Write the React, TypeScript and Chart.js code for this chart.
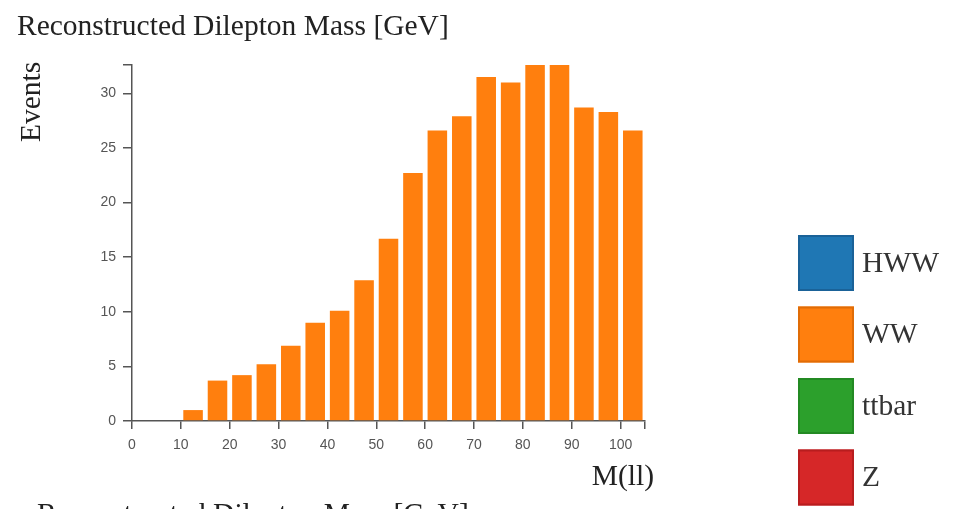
import React, { useEffect, useRef } from "react";
import { Chart, registerables } from "chart.js";

Chart.register(...registerables);

// ---- Data ----
const chartTitle = "Reconstructed Dilepton Mass [GeV]";
const xAxisTitle = "M(ll)";
const yAxisTitle = "Events";
const binStarts = [10, 15, 20, 25, 30, 35, 40, 45, 50, 55, 60, 65, 70, 75, 80, 85, 90, 95, 100];
const binWidth = 5;
const wwEvents = [1.0, 3.7, 4.2, 5.2, 6.9, 9.0, 10.1, 12.9, 16.7, 22.7, 26.6, 27.9, 31.5, 31.0, 32.6, 32.6, 28.7, 28.3, 26.6];
const processes = ["HWW", "WW", "ttbar", "Z"];
const processColors = ["#1f77b4", "#ff7f0e", "#2ca02c", "#d62728"];
const processBorders = ["#1a6298", "#e06c06", "#238a23", "#b81d1e"];
const xTickStep = 10;
const yTickStep = 5;

const SERIF = '"Liberation Serif", "Times New Roman", serif';
const SANS = '"Liberation Sans", Arial, sans-serif';

const textPlugin = {
  id: "texts",
  afterDraw(chart: any) {
    const ctx = chart.ctx as CanvasRenderingContext2D;
    ctx.save();
    ctx.font = `29.5px ${SERIF}`;
    ctx.fillStyle = "#222";
    ctx.textAlign = "left";
    ctx.textBaseline = "alphabetic";
    ctx.fillText(chartTitle, 17, 35);
    // next chart's title, cut off by the bottom edge
    ctx.fillText(chartTitle, 37, 522.5);

    ctx.save();
    ctx.translate(40, 142);
    ctx.rotate(-Math.PI / 2);
    ctx.fillText(yAxisTitle, 0, 0);
    ctx.restore();

    ctx.textAlign = "right";
    ctx.fillText(xAxisTitle, 654, 485);

    // legend
    const size = 56;
    const left = 798;
    const top0 = 235;
    const pitch = 71.5;
    chart.data.datasets.forEach((ds: any, i: number) => {
      const top = top0 + i * pitch;
      ctx.fillStyle = ds.backgroundColor;
      ctx.fillRect(left, top, size, size);
      ctx.strokeStyle = processBorders[i];
      ctx.lineWidth = 2;
      ctx.strokeRect(left + 1, top + 1, size - 2, size - 2);
      ctx.fillStyle = "#333";
      ctx.textAlign = "left";
      ctx.textBaseline = "middle";
      ctx.font = `29.5px ${SERIF}`;
      ctx.fillText(ds.label, left + size + 8, top + size / 2 + 1);
    });
    ctx.restore();
  },
};

export default function App() {
  const ref = useRef<HTMLCanvasElement | null>(null);

  useEffect(() => {
    if (!ref.current) return;
    const points = binStarts.map((s, i) => ({ x: s + binWidth / 2, y: wwEvents[i] }));
    const xMax = binStarts[binStarts.length - 1] + binWidth;
    const yMax = Math.max(...wwEvents);

    const chart = new Chart(ref.current, {
      type: "bar",
      data: {
        datasets: processes.map((p, i) => ({
          label: p,
          data: p === "WW" ? points : [],
          backgroundColor: processColors[i],
          borderWidth: 0,
          barPercentage: 0.8,
          categoryPercentage: 1,
        })),
      },
      options: {
        animation: false,
        responsive: false,
        layout: { padding: { left: 0, top: 65, right: 319, bottom: 0 } },
        plugins: { legend: { display: false }, tooltip: { enabled: false }, title: { display: false } },
        scales: {
          x: {
            type: "linear",
            stacked: true,
            offset: false,
            min: 0,
            max: xMax,
            grid: { display: true, offset: false, drawOnChartArea: false, drawTicks: true, tickLength: 8, color: "#555", lineWidth: 1.5 },
            border: { display: true, color: "#555", width: 1.5 },
            ticks: {
              stepSize: xTickStep,
              includeBounds: false,
              autoSkip: false,
              maxRotation: 0,
              padding: 8,
              color: "#555",
              font: { family: SANS, size: 14 },
              callback: (v: any) => (Number(v) % xTickStep === 0 ? String(v) : ""),
            },
            afterBuildTicks: (scale: any) => {
              scale.ticks.push({ value: scale.max });
            },
            afterFit: (scale: any) => {
              scale.height = 88;
            },
          },
          y: {
            stacked: true,
            min: 0,
            max: yMax,
            grid: { display: true, drawOnChartArea: false, drawTicks: true, tickLength: 9, color: "#555", lineWidth: 1.5 },
            border: { display: true, color: "#555", width: 1.5 },
            ticks: {
              stepSize: yTickStep,
              includeBounds: false,
              autoSkip: false,
              padding: 7,
              color: "#555",
              font: { family: SANS, size: 14 },
              callback: (v: any) => (Number(v) % yTickStep === 0 ? String(v) : ""),
            },
            afterBuildTicks: (scale: any) => {
              scale.ticks.push({ value: scale.max });
            },
            afterFit: (scale: any) => {
              scale.width = 132;
            },
          },
        },
      },
      plugins: [textPlugin],
    } as any);
    return () => chart.destroy();
  }, []);

  return (
    <div style={{ position: "absolute", left: 0, top: 0, width: 964, height: 509, background: "#fff" }}>
      <canvas ref={ref} width={964} height={509} style={{ width: 964, height: 509, display: "block" }} />
    </div>
  );
}
